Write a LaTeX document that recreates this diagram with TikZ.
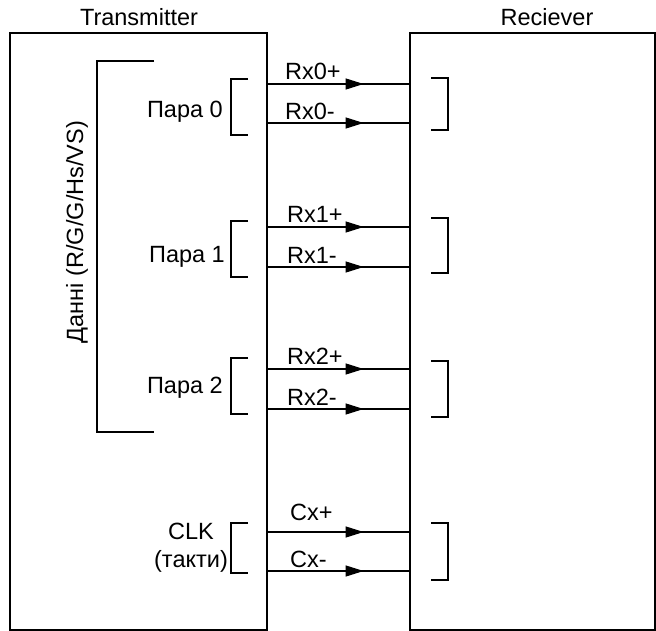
\documentclass[tikz,border=0pt]{standalone}
\usepackage{fontspec}
\setmainfont{Liberation Sans}
\usetikzlibrary{arrows.meta,decorations.markings}
\tikzset{
  box/.style={draw, line width=1.2pt, inner sep=0pt, minimum height=597pt},
  lbl/.style={inner sep=0pt, font=\fontsize{23.5}{28}\selectfont},
  brk/.style={line width=1.2pt},
  sig/.style={line width=1.2pt, postaction={decorate},
    decoration={markings, mark=at position 96pt with {\arrow{Triangle[length=18pt,width=11pt]}}}},
}
\begin{document}
\begin{tikzpicture}[x=1pt,y=-1pt]
\useasboundingbox (0,0) rectangle (656,631);
% boxes
\node[box, minimum width=257pt] (tx) at (138.5,331.5) {};
\node[box, minimum width=245pt] (rx) at (532.5,331.5) {};
% titles
\node[lbl, anchor=base] (ttx) at (139,26) {Transmitter};
\node[lbl, anchor=base] (trx) at (547,26) {Reciever};
% big bracket and its label
\draw[brk] (154,61) -- (97,61) -- (97,432) -- (154,432);
\node[lbl, rotate=90, anchor=base] (data) at (83,232) {Данні (R/G/G/Hs/VS)};
% pair labels
\node[lbl, anchor=base east] (p0) at (223,118) {Пара 0};
\node[lbl, anchor=base east] (p1) at (225,262) {Пара 1};
\node[lbl, anchor=base east] (p2) at (223,393) {Пара 2};
\node[lbl, anchor=base] (clk) at (191,539) {CLK};
\node[lbl, anchor=base] (clkb) at (191,567) {(такти)};
% transmitter-side brackets
\draw[brk] (248,79) -- (231,79) -- (231,135) -- (248,135);
\draw[brk] (248,221) -- (231,221) -- (231,277) -- (248,277);
\draw[brk] (248,358) -- (231,358) -- (231,414) -- (248,414);
\draw[brk] (248,523) -- (231,523) -- (231,573) -- (248,573);
% receiver-side brackets
\draw[brk] (431,78) -- (448,78) -- (448,130) -- (431,130);
\draw[brk] (431,218) -- (448,218) -- (448,273) -- (431,273);
\draw[brk] (431,361) -- (448,361) -- (448,417) -- (431,417);
\draw[brk] (431,523) -- (448,523) -- (448,580) -- (431,580);
% signals
\draw[sig] (tx.east |- 0,84) -- (rx.west |- 0,84);
\draw[sig] (tx.east |- 0,123) -- (rx.west |- 0,123);
\draw[sig] (tx.east |- 0,227) -- (rx.west |- 0,227);
\draw[sig] (tx.east |- 0,267) -- (rx.west |- 0,267);
\draw[sig] (tx.east |- 0,369) -- (rx.west |- 0,369);
\draw[sig] (tx.east |- 0,409) -- (rx.west |- 0,409);
\draw[sig] (tx.east |- 0,532) -- (rx.west |- 0,532);
\draw[sig] (tx.east |- 0,571) -- (rx.west |- 0,571);
% signal labels
\node[lbl, anchor=base west] (l0p) at (285,80) {Rx0+};
\node[lbl, anchor=base west] (l0m) at (285,120) {Rx0-};
\node[lbl, anchor=base west] (l1p) at (287,223) {Rx1+};
\node[lbl, anchor=base west] (l1m) at (287,263) {Rx1-};
\node[lbl, anchor=base west] (l2p) at (287,364) {Rx2+};
\node[lbl, anchor=base west] (l2m) at (287,405) {Rx2-};
\node[lbl, anchor=base west] (lcp) at (290,520) {Cx+};
\node[lbl, anchor=base west] (lcm) at (290,567) {Cx-};
\end{tikzpicture}
\end{document}
